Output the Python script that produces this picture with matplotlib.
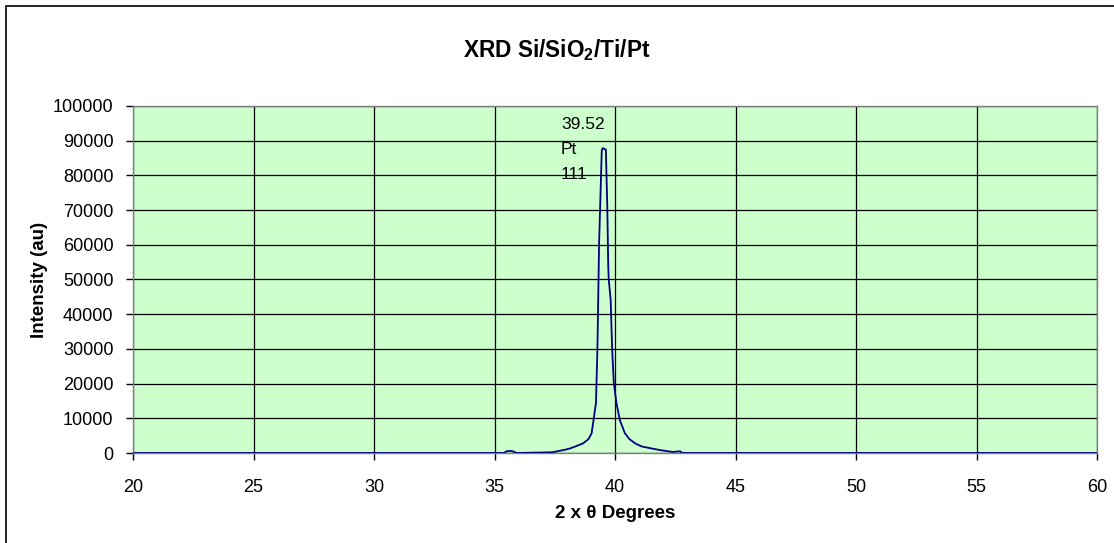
"""
XRD scan of a Si/SiO2/Ti/Pt stack, Pt (111) peak near 39.5 degrees
"""
import matplotlib
matplotlib.use("Agg")
import matplotlib.pyplot as plt
from matplotlib.patches import Rectangle

# 2-theta (degrees) and intensity (au)
two_theta = [20.0, 35.4, 35.5, 35.65, 35.8, 35.9, 37.4, 37.6, 37.9, 38.13, 38.4,
             38.68, 38.9, 39.03, 39.12, 39.21, 39.27, 39.34, 39.38, 39.45, 39.48,
             39.52, 39.58, 39.62, 39.68, 39.72, 39.74, 39.82, 39.88, 39.95, 40.06,
             40.2, 40.41, 40.6, 40.83, 41.1, 41.45, 41.9, 42.4, 42.7, 42.75, 42.8,
             60.0]
intensity = [0, 0, 500, 600, 400, 0, 200, 500, 900, 1300, 2000,
             2800, 4000, 5700, 10000, 14400, 29700, 60400, 70000, 87000, 87800,
             87800, 87500, 87500, 71000, 53700, 50000, 44100, 30300, 20200, 14400,
             9500, 5700, 4000, 2800, 1900, 1400, 800, 300, 500, 200, 0,
             0]

peak_label = "39.52\nPt\n111"
x_ticks = list(range(20, 61, 5))
y_ticks = list(range(0, 100001, 10000))

plt.rcParams['font.family'] = ['Liberation Sans', 'DejaVu Sans']
plt.rcParams['mathtext.fontset'] = 'custom'
plt.rcParams['mathtext.bf'] = 'Liberation Sans:bold'

fig = plt.figure(figsize=(11.14, 5.43), dpi=100)
ax = fig.add_axes([133 / 1114, 1 - 453 / 543, 964 / 1114, 347 / 543])
ax.set_facecolor('#CCFFCC')

ax.plot(two_theta, intensity, color='#000080', lw=1.3, zorder=3)

ax.set_xlim(20, 60)
ax.set_ylim(0, 100000)
ax.set_xticks(x_ticks)
ax.set_yticks(y_ticks)
ax.grid(True, color='black', lw=0.9)
ax.set_axisbelow(True)
ax.tick_params(direction='out', length=5, width=1, labelsize=13)
ax.tick_params(axis='x', pad=14)
ax.tick_params(axis='y', pad=9)
for s in ax.spines.values():
    s.set_color('#808080')
    s.set_linewidth(1)

ax.text(37.76, 96800, peak_label, ha='left', va='top', fontsize=12.5,
        linespacing=1.82, zorder=4)

fig.text(557 / 1114, 1 - 50 / 543, r'XRD Si/SiO$_\mathbf{2}$/Ti/Pt', ha='center',
         va='center', fontsize=16.3, fontweight='bold')
fig.text(615 / 1114, 1 - 514 / 543, '2 x θ Degrees', ha='center', va='center',
         fontsize=13.5, fontweight='bold')
fig.text(39 / 1114, 1 - 280 / 543, 'Intensity (au)', ha='center', va='center',
         rotation=90, fontsize=13.5, fontweight='bold')

# chart border (right/bottom edges fall outside the picture)
fig.patches.append(Rectangle((6 / 1114, -0.05), 1.2, 1 - 6 / 543 + 0.05,
                             transform=fig.transFigure, fill=False,
                             edgecolor='black', lw=1.2))

fig.savefig('out.png', dpi=100)
